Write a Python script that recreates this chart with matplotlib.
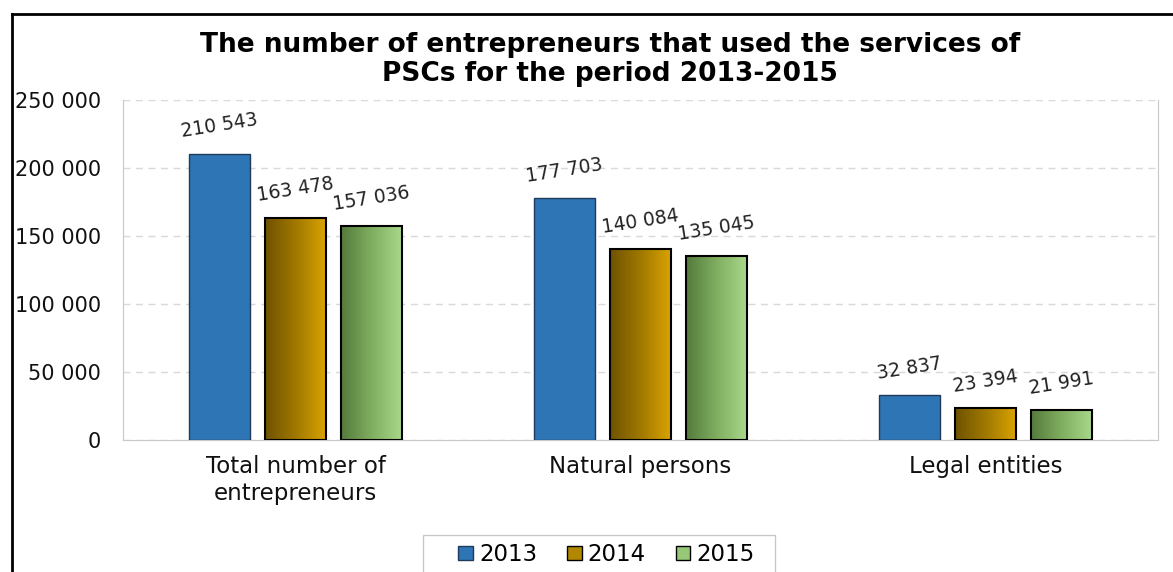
import numpy as np
import matplotlib.pyplot as plt
from matplotlib.lines import Line2D
from matplotlib.patches import Patch, Rectangle
from matplotlib.colors import LinearSegmentedColormap
from matplotlib.ticker import FuncFormatter

plt.rcParams['font.family'] = ['DejaVu Sans']

categories = ['Total number of\nentrepreneurs', 'Natural persons', 'Legal entities']
years = ['2013', '2014', '2015']
v2013 = [210543, 177703, 32837]
v2014 = [163478, 140084, 23394]
v2015 = [157036, 135045, 21991]
series = [v2013, v2014, v2015]

blue = '#2e75b6'
gold_cmap = LinearSegmentedColormap.from_list('gold', ['#6e5200', '#a07800', '#d9a300'])
green_cmap = LinearSegmentedColormap.from_list('green', ['#557a3c', '#7fae60', '#a9d88c'])
cmaps = [None, gold_cmap, green_cmap]

fig = plt.figure(figsize=(11.73, 5.72), dpi=100)
ax = fig.add_axes([0.1049, 0.2308, 0.8823, 0.5944])

x = np.arange(len(categories))
w = 0.175
step = 0.22
grad = np.linspace(0, 1, 256).reshape(1, -1)

for i, vals in enumerate(series):
    pos = x + (i - 1) * step
    if cmaps[i] is None:
        ax.bar(pos, vals, width=w, color=blue, edgecolor='#1f3a5a', linewidth=1, zorder=3)
    else:
        bars = ax.bar(pos, vals, width=w, color='none', edgecolor='black', linewidth=1.5, zorder=4)
        for b in bars:
            im = ax.imshow(grad, cmap=cmaps[i], aspect='auto', zorder=3,
                           extent=[b.get_x(), b.get_x() + b.get_width(), 0, b.get_height()])
            im.set_clip_path(b)
    for p, v in zip(pos, vals):
        ax.text(p, v + 9000, f'{v:,}'.replace(',', ' '), ha='center', va='bottom',
                rotation=9, fontsize=13.5, color='#222222', zorder=5)

ax.set_xlim(-0.5, 2.5)
ax.set_ylim(0, 250000)
ax.set_yticks(np.arange(0, 250001, 50000))
ax.yaxis.set_major_formatter(FuncFormatter(lambda v, _: f'{int(v):,}'.replace(',', ' ')))
ax.set_xticks(x)
ax.set_xticklabels(categories, fontsize=16.5, color='#111111')
ax.tick_params(axis='y', labelsize=15, length=0, pad=16, labelcolor='#111111')
ax.tick_params(axis='x', length=0, pad=11)
ax.grid(axis='y', color='#d9d9d9', linestyle=(0, (5, 4)), linewidth=1, zorder=0)
for s in ['left', 'right', 'bottom']:
    ax.spines[s].set_color('#c8c8c8')
ax.spines['top'].set_visible(False)

fig.suptitle('The number of entrepreneurs that used the services of\nPSCs for the period 2013-2015',
             x=0.52, y=0.944, fontsize=19, fontweight='bold', linespacing=1.15)

handles = [Patch(facecolor=blue, edgecolor='#1f3a5a'),
           Patch(facecolor='#b38700', edgecolor='black'),
           Patch(facecolor='#96c878', edgecolor='black')]
leg = fig.legend(handles, years, loc='upper center', bbox_to_anchor=(0.517, 0.063), ncol=3,
                 fontsize=16.5, frameon=False, handlelength=0.65, handleheight=0.55,
                 handletextpad=0.25, columnspacing=1.3, borderpad=0.3, borderaxespad=0)

# legend frame, wider than the entries
fig.add_artist(Rectangle((423 / 1173, -0.05), 352 / 1173, 0.05 + 1 - 535 / 572,
                         transform=fig.transFigure, fill=False, edgecolor='#c8c8c8', linewidth=1))

# outer chart border (cropped at right and bottom)
fig.add_artist(Line2D([12 / 1173, 12 / 1173], [0, 1 - 14 / 572], color='black', linewidth=2))
fig.add_artist(Line2D([12 / 1173, 1], [1 - 14 / 572, 1 - 14 / 572], color='black', linewidth=2))

fig.savefig('out.png', dpi=100)
